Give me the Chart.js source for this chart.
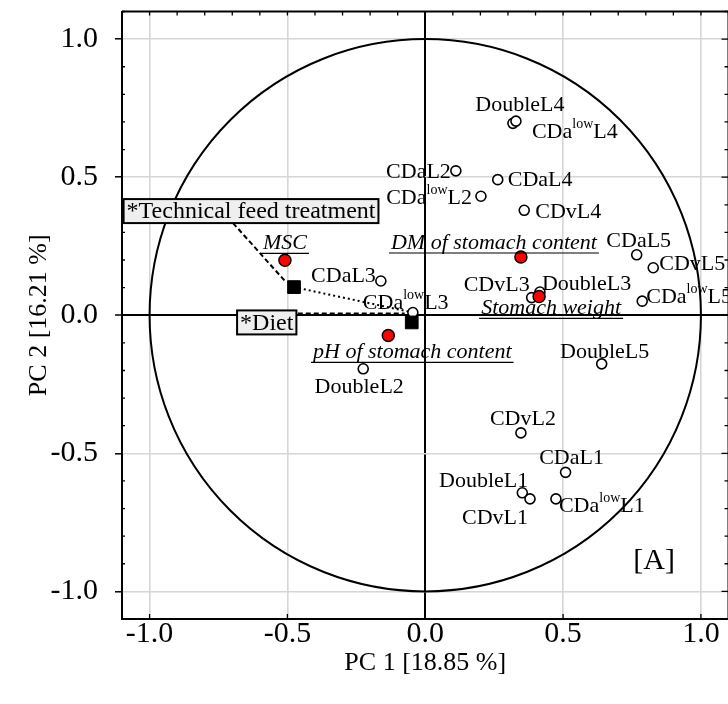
<!DOCTYPE html>
<html>
<head>
<meta charset="utf-8">
<script src="https://cdn.jsdelivr.net/npm/chart.js@4.4.1/dist/chart.umd.min.js"></script>
<style>
  html, body { margin: 0; padding: 0; background: #fff; overflow: hidden; width: 728px; height: 704px; }
  #wrap { width: 730px; height: 704px; }
</style>
</head>
<body>
<div id="wrap"><canvas id="pca" width="730" height="704"></canvas></div>
<script>
// Observations (sample scores), "^{...}" marks a superscript
const sampleNames = [
  'DoubleL4', 'CDa^{low}L4', 'CDaL2', 'CDaL4', 'CDa^{low}L2', 'CDvL4',
  'CDaL5', 'CDvL5', 'CDvL3', 'DoubleL3', 'CDa^{low}L5', 'CDa^{low}L3',
  'CDaL3', 'DoubleL2', 'DoubleL5', 'CDvL2', 'CDaL1', 'DoubleL1', 'CDvL1', 'CDa^{low}L1'
];
const sampleX = [0.318, 0.329, 0.111, 0.263, 0.202, 0.359, 0.767, 0.827, 0.386, 0.416, 0.787, -0.045,
  -0.161, -0.225, 0.640, 0.347, 0.509, 0.352, 0.380, 0.474];
const sampleY = [0.695, 0.703, 0.523, 0.491, 0.431, 0.380, 0.219, 0.172, 0.064, 0.084, 0.051, 0.010,
  0.124, -0.194, -0.176, -0.426, -0.569, -0.643, -0.665, -0.665];

// Active variables (loadings)
const variableNames = ['MSC', 'DM of stomach content', 'Stomach weight', 'pH of stomach content'];
const variableX = [-0.509, 0.347, 0.413, -0.134];
const variableY = [0.199, 0.211, 0.068, -0.073];

// Supplementary factors
const factorNames = ['*Technical feed treatment', '*Diet'];
const factorX = [-0.476, -0.049];
const factorY = [0.102, -0.026];

const axisTicks = [-1.0, -0.5, 0.0, 0.5, 1.0];
const xTitle = 'PC 1 [18.85 %]';
const yTitle = 'PC 2 [16.21 %]';
const panelTag = '[A]';

// ---- label placement (pixel offsets from the marker) ----
const sampleLabelPos = {
  'DoubleL4': ['center', 7, -18], 'CDa^{low}L4': ['left', 16, 11], 'CDaL2': ['right', -5, 1],
  'CDaL4': ['left', 10, 1], 'CDa^{low}L2': ['right', -9, 2], 'CDvL4': ['left', 11, 2],
  'CDaL5': ['center', 2, -14], 'CDvL5': ['left', 6, -4], 'CDvL3': ['right', -2, -12],
  'DoubleL3': ['left', 2, -8], 'CDa^{low}L5': ['left', 4, -4], 'CDa^{low}L3': ['left', -50, -9],
  'CDaL3': ['right', -5, -5], 'DoubleL2': ['center', -4, 18], 'DoubleL5': ['center', 3, -12],
  'CDvL2': ['center', 2, -14], 'CDaL1': ['center', 6, -14], 'DoubleL1': ['right', 6, -12],
  'CDvL1': ['right', -2, 19], 'CDa^{low}L1': ['left', 3, 7]
};
const variableLabelPos = {
  'MSC': [0, -17], 'DM of stomach content': [-27, -14],
  'Stomach weight': [12, 12], 'pH of stomach content': [24, 17]
};

const FONT = '"Liberation Serif", "Times New Roman", serif';

function drawRich(ctx, text, x, y, align, size, italic) {
  const parts = [];
  const re = /\^\{([^}]*)\}/g;
  let last = 0, m;
  while ((m = re.exec(text))) {
    if (m.index > last) parts.push({ t: text.slice(last, m.index), sup: false });
    parts.push({ t: m[1], sup: true });
    last = re.lastIndex;
  }
  if (last < text.length) parts.push({ t: text.slice(last), sup: false });
  const st = italic ? 'italic ' : '';
  const baseFont = st + size + 'px ' + FONT;
  const supFont = st + Math.round(size * 0.64) + 'px ' + FONT;
  let w = 0;
  parts.forEach(p => { ctx.font = p.sup ? supFont : baseFont; p.w = ctx.measureText(p.t).width; w += p.w; });
  let sx = align === 'left' ? x : align === 'right' ? x - w : x - w / 2;
  const x0 = sx;
  ctx.textAlign = 'left';
  ctx.textBaseline = 'middle';
  parts.forEach(p => {
    ctx.font = p.sup ? supFont : baseFont;
    ctx.fillText(p.t, sx, p.sup ? y - size * 0.36 : y);
    sx += p.w;
  });
  return { left: x0, width: w };
}

const decor = {
  id: 'decor',
  beforeDatasetsDraw(chart) {
    const { ctx, chartArea: a, scales: { x, y } } = chart;
    ctx.save();
    ctx.strokeStyle = '#000';
    // top and right frame
    ctx.lineWidth = 2;
    ctx.beginPath();
    ctx.moveTo(a.left, a.top); ctx.lineTo(a.right, a.top); ctx.lineTo(a.right, a.bottom);
    ctx.stroke();
    // tick marks pointing inward
    ctx.lineWidth = 1.3;
    ctx.beginPath();
    for (let i = -11; i <= 11; i++) {
      const v = i / 10;
      const major = i % 5 === 0;
      const px = x.getPixelForValue(v), py = y.getPixelForValue(v);
      ctx.moveTo(px, a.top); ctx.lineTo(px, a.top + 4);
      ctx.moveTo(a.right, py); ctx.lineTo(a.right - (major ? 7 : 4), py);
      if (!major) { ctx.moveTo(a.left, py); ctx.lineTo(a.left + 3, py); }
    }
    axisTicks.forEach(v => {
      const px = x.getPixelForValue(v);
      ctx.moveTo(px, a.bottom); ctx.lineTo(px, a.bottom - 5);
    });
    ctx.stroke();

    // unit correlation circle
    const cx = x.getPixelForValue(0), cy = y.getPixelForValue(0);
    const rx = x.getPixelForValue(1) - cx, ry = cy - y.getPixelForValue(1);
    ctx.lineWidth = 2;
    ctx.beginPath();
    ctx.ellipse(cx, cy, rx, ry, 0, 0, Math.PI * 2);
    ctx.stroke();

    // connectors between factor centroids and their boxes
    const tx = x.getPixelForValue(factorX[0]), ty = y.getPixelForValue(factorY[0]);
    const dx = x.getPixelForValue(factorX[1]), dy = y.getPixelForValue(factorY[1]);
    const lx = x.getPixelForValue(sampleX[11]), ly = y.getPixelForValue(sampleY[11]);
    ctx.lineWidth = 2;
    ctx.setLineDash([2, 3]);
    ctx.beginPath(); ctx.moveTo(tx, ty); ctx.lineTo(lx, ly); ctx.stroke();
    ctx.setLineDash([5, 3]);
    ctx.beginPath(); ctx.moveTo(tx - 61, ty - 64); ctx.lineTo(tx - 9, ty - 6); ctx.stroke();
    ctx.beginPath(); ctx.moveTo(dx - 114, dy - 9); ctx.lineTo(dx - 7, dy - 9); ctx.stroke();
    ctx.setLineDash([]);
    ctx.restore();
  },
  afterDatasetsDraw(chart) {
    const { ctx, scales: { x, y } } = chart;
    ctx.save();
    ctx.fillStyle = '#000';
    ctx.strokeStyle = '#000';
    // sample labels
    sampleNames.forEach((n, i) => {
      const [al, ox, oy] = sampleLabelPos[n];
      drawRich(ctx, n, x.getPixelForValue(sampleX[i]) + ox, y.getPixelForValue(sampleY[i]) + oy, al, 22, false);
    });
    // variable labels, italic and underlined
    variableNames.forEach((n, i) => {
      const [ox, oy] = variableLabelPos[n];
      const px = x.getPixelForValue(variableX[i]) + ox, py = y.getPixelForValue(variableY[i]) + oy;
      const r = drawRich(ctx, n, px, py, 'center', 22, true);
      ctx.lineWidth = 1.2;
      ctx.beginPath();
      ctx.moveTo(r.left - 2, py + 10); ctx.lineTo(r.left + r.width + 2, py + 10);
      ctx.stroke();
    });
    // factor boxes
    const boxes = [
      { i: 0, cx: -43, cy: -76 },
      { i: 1, cx: -145, cy: 0 }
    ];
    boxes.forEach(b => {
      const px = x.getPixelForValue(factorX[b.i]) + b.cx, py = y.getPixelForValue(factorY[b.i]) + b.cy;
      ctx.font = '24px ' + FONT;
      const w = ctx.measureText(factorNames[b.i]).width + 6, h = 24;
      ctx.fillStyle = '#efefef';
      ctx.fillRect(px - w / 2, py - h / 2, w, h);
      ctx.lineWidth = 2;
      ctx.strokeRect(px - w / 2, py - h / 2, w, h);
      ctx.fillStyle = '#000';
      ctx.textAlign = 'center';
      ctx.textBaseline = 'middle';
      ctx.fillText(factorNames[b.i], px, py + 1);
    });
    // panel tag
    ctx.font = '30px ' + FONT;
    ctx.textAlign = 'center';
    ctx.textBaseline = 'middle';
    ctx.fillText(panelTag, x.getPixelForValue(0.83), y.getPixelForValue(-0.89));
    ctx.restore();
  }
};

const toPts = (xs, ys) => xs.map((v, i) => ({ x: v, y: ys[i] }));
const gridColor = c => (c.tick && c.tick.value === 0 ? '#000' : '#d6d6d6');
const gridWidth = c => (c.tick && c.tick.value === 0 ? 2 : 1.6);
const noPad = s => { s.paddingTop = 0; s.paddingBottom = 0; s.paddingLeft = 0; s.paddingRight = 0; };

new Chart(document.getElementById('pca'), {
  type: 'scatter',
  data: {
    datasets: [
      { label: 'factors', data: toPts(factorX, factorY), order: 0,
        pointStyle: 'rect', pointRadius: 9, backgroundColor: '#000', borderColor: '#000', borderWidth: 1 },
      { label: 'variables', data: toPts(variableX, variableY), order: 1,
        pointRadius: 6, backgroundColor: '#ff0000', borderColor: '#000', borderWidth: 1.5 },
      { label: 'samples', data: toPts(sampleX, sampleY), order: 2,
        pointRadius: 5, backgroundColor: '#fff', borderColor: '#000', borderWidth: 1.6 }
    ]
  },
  options: {
    responsive: false,
    animation: false,
    events: [],
    layout: { autoPadding: false, padding: { top: 11.5, right: 1.5, left: 0, bottom: 0 } },
    plugins: { legend: { display: false }, tooltip: { enabled: false } },
    scales: {
      x: {
        type: 'linear', min: -1.1, max: 1.1,
        afterBuildTicks: s => { s.ticks = axisTicks.map(v => ({ value: v })); },
        afterFit: s => { s.height = 85; noPad(s); },
        grid: { color: gridColor, lineWidth: gridWidth, drawTicks: false },
        border: { display: true, color: '#000', width: 2 },
        ticks: { color: '#000', padding: -3, font: { family: FONT, size: 30 }, maxRotation: 0,
          callback: v => v.toFixed(1) },
        title: { display: true, text: xTitle, color: '#000', font: { family: FONT, size: 26 },
          padding: { top: 0, bottom: 25 } }
      },
      y: {
        type: 'linear', min: -1.1, max: 1.1,
        afterBuildTicks: s => { s.ticks = axisTicks.map(v => ({ value: v })); },
        afterFit: s => { s.width = 122; noPad(s); },
        grid: { color: gridColor, lineWidth: gridWidth, drawTicks: true, tickLength: 7, tickColor: '#000', tickWidth: 1.5 },
        border: { display: true, color: '#000', width: 2 },
        ticks: { color: '#000', padding: 17, font: { family: FONT, size: 30 },
          callback: v => v.toFixed(1) },
        title: { display: true, text: yTitle, color: '#000', font: { family: FONT, size: 26 },
          padding: { top: 24, bottom: 0 } }
      }
    }
  },
  plugins: [decor]
});
</script>
</body>
</html>
